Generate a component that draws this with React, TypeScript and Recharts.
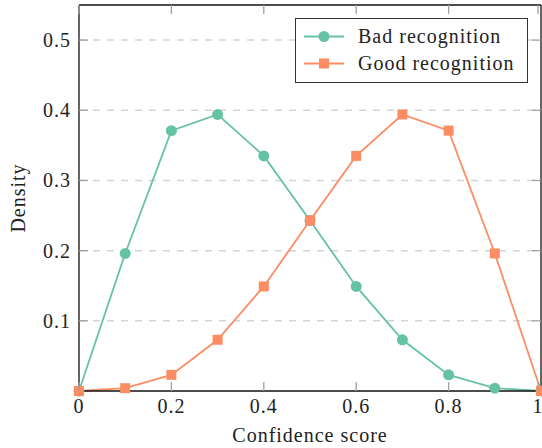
import { LineChart, Line, XAxis, YAxis, CartesianGrid, Legend } from "recharts";

const scores = [0, 0.1, 0.2, 0.3, 0.4, 0.5, 0.6, 0.7, 0.8, 0.9, 1];
const badRecognition = [0, 0.196, 0.371, 0.394, 0.335, 0.243, 0.149, 0.073, 0.023, 0.004, 0];
const goodRecognition = [0, 0.004, 0.023, 0.073, 0.149, 0.243, 0.335, 0.394, 0.371, 0.196, 0];
const xTicks = [0, 0.2, 0.4, 0.6, 0.8, 1];
const yTicks = [0.1, 0.2, 0.3, 0.4, 0.5];

const data = scores.map((s, i) => ({ score: s, bad: badRecognition[i], good: goodRecognition[i] }));

const TEAL = "#66c2a5";
const ORANGE = "#fc8d62";
const FONT = "'Liberation Serif', 'Times New Roman', serif";
const TICK_LEN = 9;
const TICK_COLOR = "#a0a0a0";

const fmt = (v: number) => (v === 0 ? "0" : v === 1 ? "1" : String(v));

function BottomTick({ x, y, payload }: any) {
  return (
    <g>
      <line x1={x} y1={y} x2={x} y2={y - TICK_LEN} stroke={TICK_COLOR} strokeWidth={1.3} />
      <text x={x} y={y + 22} textAnchor="middle" fontFamily={FONT} fontSize={20} letterSpacing={1} fill="#222">
        {fmt(payload.value)}
      </text>
    </g>
  );
}

function TopTick({ x, y }: any) {
  return <line x1={x} y1={y} x2={x} y2={y + TICK_LEN} stroke={TICK_COLOR} strokeWidth={1.3} />;
}

function LeftTick({ x, y, payload }: any) {
  return (
    <g>
      <line x1={x} y1={y} x2={x + TICK_LEN} y2={y} stroke={TICK_COLOR} strokeWidth={1.3} />
      <text x={x - 8} y={y + 7} textAnchor="end" fontFamily={FONT} fontSize={20} letterSpacing={1} fill="#222">
        {payload.value.toFixed(1)}
      </text>
    </g>
  );
}

function RightTick({ x, y }: any) {
  return <line x1={x} y1={y} x2={x - TICK_LEN} y2={y} stroke={TICK_COLOR} strokeWidth={1.3} />;
}

function Square({ cx, cy, fill }: any) {
  return <rect x={cx - 5} y={cy - 5} width={10} height={10} fill={fill} />;
}

function LegendBox() {
  const rows = [
    { name: "Bad recognition", color: TEAL, shape: "circle" },
    { name: "Good recognition", color: ORANGE, shape: "square" },
  ];
  return (
    <div
      style={{
        border: "1px solid #333",
        background: "#fff",
        width: 233,
        height: 65,
        boxSizing: "border-box",
        paddingTop: 4,
        fontFamily: FONT,
        fontSize: 20,
        letterSpacing: 1,
        color: "#222",
      }}
    >
      {rows.map((r) => (
        <div key={r.name} style={{ display: "flex", alignItems: "center", height: 27 }}>
          <svg width={62} height={27} style={{ display: "block" }}>
            <line x1={8} y1={13.5} x2={48} y2={13.5} stroke={r.color} strokeWidth={1.8} />
            {r.shape === "circle" ? (
              <circle cx={28} cy={13.5} r={5.5} fill={r.color} />
            ) : (
              <rect x={23} y={8.5} width={10} height={10} fill={r.color} />
            )}
          </svg>
          <span style={{ lineHeight: "27px" }}>{r.name}</span>
        </div>
      ))}
    </div>
  );
}

export default function App() {
  return (
    <div style={{ position: "absolute", left: 0, top: 0, background: "#fff" }}>
      <LineChart width={542} height={448} data={data} margin={{ top: 4, right: 0, bottom: 56, left: 78 }}>
        <CartesianGrid
          horizontal
          vertical={false}
          horizontalValues={yTicks}
          stroke="#d4d4d4"
          strokeWidth={1.5}
          strokeDasharray="7 7"
        />
        <XAxis
          dataKey="score"
          type="number"
          domain={[0, 1]}
          ticks={xTicks}
          height={1}
          tickSize={0}
          tickMargin={0}
          tickLine={false}
          axisLine={{ stroke: "#111", strokeWidth: 1.3 }}
          tick={<BottomTick />}
          label={{
            content: ({ viewBox }: any) => (
              <text
                x={viewBox.x + viewBox.width / 2}
                y={442}
                textAnchor="middle"
                fontFamily={FONT}
                fontSize={20}
                letterSpacing={1}
                fill="#222"
              >
                Confidence score
              </text>
            ),
          }}
        />
        <XAxis
          xAxisId="top"
          dataKey="score"
          orientation="top"
          type="number"
          domain={[0, 1]}
          ticks={xTicks}
          height={1}
          tickSize={0}
          tickMargin={0}
          tickLine={false}
          axisLine={{ stroke: "#111", strokeWidth: 1.3 }}
          tick={<TopTick />}
        />
        <YAxis
          type="number"
          domain={[0, 0.55]}
          ticks={yTicks}
          width={1}
          tickSize={0}
          tickMargin={0}
          tickLine={false}
          axisLine={{ stroke: "#111", strokeWidth: 1.3 }}
          tick={<LeftTick />}
          label={{
            content: () => (
              <text
                x={25}
                y={198}
                transform="rotate(-90 25 198)"
                textAnchor="middle"
                fontFamily={FONT}
                fontSize={20}
                letterSpacing={1}
                fill="#222"
              >
                Density
              </text>
            ),
          }}
        />
        <YAxis
          yAxisId="right"
          orientation="right"
          type="number"
          domain={[0, 0.55]}
          ticks={yTicks}
          width={1}
          tickSize={0}
          tickMargin={0}
          tickLine={false}
          axisLine={{ stroke: "#111", strokeWidth: 1.3 }}
          tick={<RightTick />}
        />
        <Line
          dataKey="bad"
          name="Bad recognition"
          stroke={TEAL}
          strokeWidth={1.8}
          dot={{ r: 5.5, fill: TEAL, stroke: "none" }}
          activeDot={false}
          isAnimationActive={false}
        />
        <Line
          dataKey="good"
          name="Good recognition"
          stroke={ORANGE}
          strokeWidth={1.8}
          dot={<Square fill={ORANGE} />}
          activeDot={false}
          isAnimationActive={false}
        />
        <Line
          xAxisId="top"
          yAxisId="right"
          dataKey="bad"
          stroke="none"
          dot={false}
          activeDot={false}
          legendType="none"
          isAnimationActive={false}
        />
        <Legend
          layout="vertical"
          align="center"
          verticalAlign="middle"
          content={<LegendBox />}
          wrapperStyle={{ position: "absolute", left: 295, top: 18, width: 233, height: 65 }}
        />
      </LineChart>
    </div>
  );
}
